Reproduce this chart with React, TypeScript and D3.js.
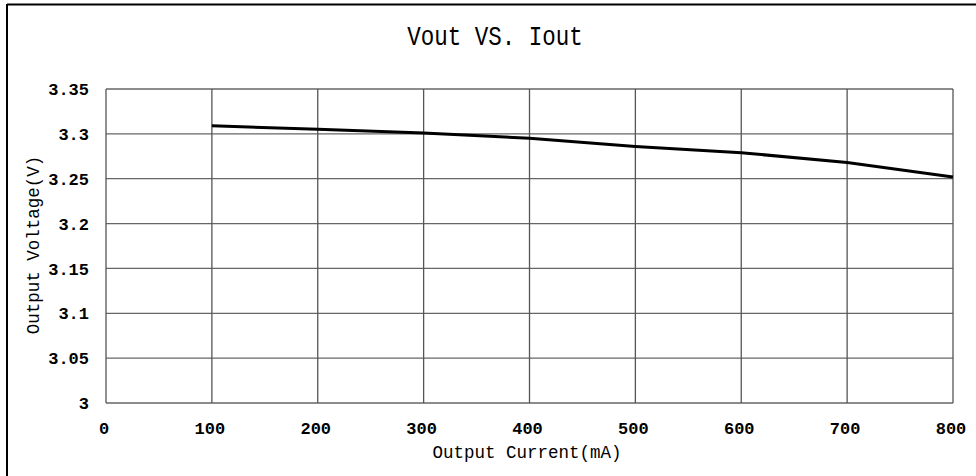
import { useEffect } from "react";
import { scaleLinear, line } from "d3";

const currents = [100, 200, 300, 400, 500, 600, 700, 800];
const voltages = [3.309, 3.305, 3.301, 3.295, 3.286, 3.279, 3.268, 3.252];
const xTicks = [0, 100, 200, 300, 400, 500, 600, 700, 800];
const yTicks = [3, 3.05, 3.1, 3.15, 3.2, 3.25, 3.3, 3.35];

const width = 976;
const height = 476;
const plot = { left: 106, right: 953, top: 89, bottom: 403 };
const mono = "'Liberation Mono', 'DejaVu Sans Mono', monospace";

export default function App() {
  useEffect(() => {
    document.body.style.margin = "0";
  }, []);

  const x = scaleLinear().domain([0, 800]).range([plot.left, plot.right]);
  const y = scaleLinear().domain([3, 3.35]).range([plot.bottom, plot.top]);
  const path =
    line<number>()
      .x((_, i) => x(currents[i]))
      .y((v) => y(v))(voltages) ?? "";

  return (
    <svg width={width} height={height} style={{ display: "block", background: "#fff" }}>
      {/* frame around the picture: top and left edges only */}
      <line x1={7} y1={4.5} x2={width} y2={4.5} stroke="#000" strokeWidth={2} />
      <line x1={7} y1={4} x2={7} y2={height} stroke="#000" strokeWidth={2} />

      <text
        x={495}
        y={45}
        textAnchor="middle"
        fontFamily={mono}
        fontSize={22.5}
        transform="translate(495,45) scale(1,1.2) translate(-495,-45)"
      >
        Vout VS. Iout
      </text>

      {yTicks.map((t) => (
        <g key={`y${t}`}>
          <line x1={plot.left} x2={plot.right} y1={y(t)} y2={y(t)} stroke="#666" strokeWidth={1.3} />
          <text
            x={89}
            y={y(t)}
            dy="0.36em"
            textAnchor="end"
            fontFamily={mono}
            fontWeight="bold"
            fontSize={17}
          >
            {String(t)}
          </text>
        </g>
      ))}

      {xTicks.map((t) => (
        <g key={`x${t}`}>
          <line x1={x(t)} x2={x(t)} y1={plot.top} y2={plot.bottom} stroke="#555" strokeWidth={1.3} />
          <text
            x={x(t) - 2}
            y={428}
            dy="0.36em"
            textAnchor="middle"
            fontFamily={mono}
            fontWeight="bold"
            fontSize={17}
          >
            {t}
          </text>
        </g>
      ))}

      <path d={path} fill="none" stroke="#000" strokeWidth={3} />

      <text x={527} y={452} dy="0.35em" textAnchor="middle" fontFamily={mono} fontSize={17.5}>
        Output Current(mA)
      </text>
      <text
        transform="translate(33,245) rotate(-90)"
        dy="0.35em"
        textAnchor="middle"
        fontFamily={mono}
        fontSize={17.5}
      >
        Output Voltage(V)
      </text>
    </svg>
  );
}
